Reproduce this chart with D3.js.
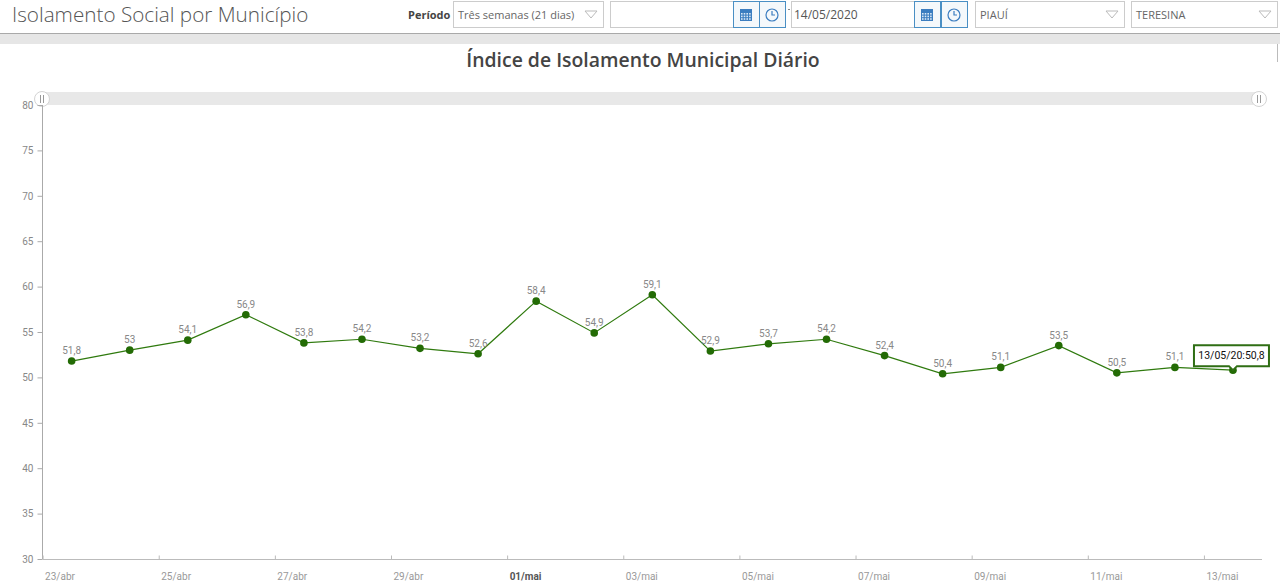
<!DOCTYPE html>
<html>
<head>
<meta charset="utf-8">
<script src="https://cdnjs.cloudflare.com/ajax/libs/d3/7.8.5/d3.min.js"></script>
<style>
  body { margin:0; background:#fff; overflow:hidden; }
  svg { display:block; }
</style>
</head>
<body>
<svg id="chart" width="1280" height="584"></svg>
<script>
// daily values, 23/04/2020 .. 13/05/2020
var dias = ["2020-04-23","2020-04-24","2020-04-25","2020-04-26","2020-04-27","2020-04-28","2020-04-29",
            "2020-04-30","2020-05-01","2020-05-02","2020-05-03","2020-05-04","2020-05-05","2020-05-06",
            "2020-05-07","2020-05-08","2020-05-09","2020-05-10","2020-05-11","2020-05-12","2020-05-13"];
var indice = [51.8, 53, 54.1, 56.9, 53.8, 54.2, 53.2, 52.6, 58.4, 54.9, 59.1,
              52.9, 53.7, 54.2, 52.4, 50.4, 51.1, 53.5, 50.5, 51.1, 50.8];
var xTicks = ["2020-04-23","2020-04-25","2020-04-27","2020-04-29","2020-05-01","2020-05-03",
              "2020-05-05","2020-05-07","2020-05-09","2020-05-11","2020-05-13"];
var xTickLabels = ["23/abr","25/abr","27/abr","29/abr","01/mai","03/mai","05/mai","07/mai","09/mai","11/mai","13/mai"];
var yTicks = [30, 35, 40, 45, 50, 55, 60, 65, 70, 75, 80];

var parse = d3.timeParse("%Y-%m-%d");
var fmtNum = function(v){ return String(v).replace(".", ","); };

var svg = d3.select("#chart");
var green = "#2f7a0e", dot = "#236b05";

// ---- header bar
svg.append("rect").attr("x",0).attr("y",0).attr("width",1280).attr("height",33).style("fill","#fff");
svg.append("rect").attr("x",0).attr("y",33).attr("width",1280).attr("height",11).style("fill","#e6e6e6");
svg.append("line").attr("x1",0).attr("x2",1280).attr("y1",33.5).attr("y2",33.5).style("stroke","#a9a9a9");
svg.append("line").attr("x1",1277.5).attr("x2",1277.5).attr("y1",44).attr("y2",62).style("stroke","#bbb");

svg.append("text").attr("x",12).attr("y",22)
  .style("font-family","'Open Sans'").style("font-weight",300).style("font-size","20.7px").style("fill","#555")
  .text("Isolamento Social por Município");

svg.append("text").attr("x",408).attr("y",19)
  .style("font-family","'Open Sans'").style("font-weight",700).style("font-size","11px").style("fill","#444")
  .text("Período");

function caixa(x, w, txt, seta){
  svg.append("rect").attr("x",x+0.5).attr("y",1.5).attr("width",w).attr("height",26)
    .style("fill","#fff").style("stroke","#ccc");
  if(txt) svg.append("text").attr("x",x+5).attr("y",19)
    .style("font-family","'Open Sans'").style("font-size","11px").style("fill","#666").text(txt);
  if(seta){
    var cx = x + w - 12;
    svg.append("path").attr("d","M"+(cx-6)+",11 L"+(cx+6)+",11 L"+cx+",18 Z")
      .style("fill","none").style("stroke","#bbb");
  }
}
function botao(x, tipo){
  svg.append("rect").attr("x",x+0.5).attr("y",1.5).attr("width",26).attr("height",26)
    .style("fill","#f4f8fb").style("stroke","#4a8fc4");
  var cx = x + 13, cy = 15;
  if(tipo == "cal"){
    svg.append("rect").attr("x",cx-6).attr("y",cy-6).attr("width",12).attr("height",12).style("fill","#3b7dc0");
    for(var r=0;r<3;r++) for(var c=0;c<4;c++)
      svg.append("rect").attr("x",cx-5+c*2.7).attr("y",cy-2+r*2.6).attr("width",1.6).attr("height",1.6).style("fill","#dbe9f6");
  } else {
    svg.append("circle").attr("cx",cx).attr("cy",cy).attr("r",6).style("fill","none").style("stroke","#3b7dc0").style("stroke-width",1.2);
    svg.append("path").attr("d","M"+cx+","+(cy-4)+" L"+cx+","+cy+" L"+(cx+3)+","+cy)
      .style("fill","none").style("stroke","#3b7dc0").style("stroke-width",1.2);
  }
}
caixa(453, 150, "Três semanas (21 dias)", true);
caixa(610, 123, "", false);
botao(733, "cal"); botao(759, "clk");
svg.append("line").attr("x1",788).attr("x2",790).attr("y1",9.5).attr("y2",9.5).style("stroke","#888");
caixa(791, 123, "", false);
svg.append("text").attr("x",794).attr("y",19).style("font-family","'Open Sans'").style("font-size","12px").style("fill","#555").text("14/05/2020");
botao(914, "cal"); botao(941, "clk");
caixa(975, 149, "PIAUÍ", true);
caixa(1131, 146, "TERESINA", true);

// ---- chart title
svg.append("text").attr("x",643).attr("y",67).attr("text-anchor","middle")
  .style("font-family","'Open Sans'").style("font-weight",600).style("font-size","19.4px").style("fill","#444")
  .text("Índice de Isolamento Municipal Diário");

// ---- scales
var x = d3.scaleTime().domain([parse("2020-04-23"), parse("2020-05-14")]).range([42.6, 1262]);
var y = d3.scaleLinear().domain([30, 80]).range([559, 105]);

// scrollbar
svg.append("rect").attr("x",42).attr("y",92).attr("width",1218).attr("height",13).style("fill","#e8e8e8");
[42, 1259].forEach(function(hx){
  svg.append("circle").attr("cx",hx).attr("cy",99).attr("r",7.5).style("fill","#fff").style("stroke","#d4d4d4");
  svg.append("line").attr("x1",hx-1.5).attr("x2",hx-1.5).attr("y1",95).attr("y2",103).style("stroke","#999");
  svg.append("line").attr("x1",hx+1.5).attr("x2",hx+1.5).attr("y1",95).attr("y2",103).style("stroke","#999");
});

// axes
var yAxis = d3.axisLeft(y).tickValues(yTicks).tickSize(5).tickPadding(4);
var gy = svg.append("g").attr("transform","translate(42.5,0)").call(yAxis);
gy.select(".domain").attr("d","M0,105V559").style("stroke","#aaa");
gy.selectAll(".tick line").style("stroke","#aaa");
gy.selectAll(".tick text").style("font-family","Roboto").style("font-size","10px").style("fill","#888");

var xAxis = d3.axisBottom(x).tickValues(xTicks.map(parse)).tickSize(4)
  .tickFormat(function(d, i){ return xTickLabels[i]; });
var gx = svg.append("g").attr("transform","translate(0,559.5)").call(xAxis);
gx.select(".domain").attr("d","M42.6,0H1262").style("stroke","#bbb");
gx.selectAll(".tick line").attr("y1",-4).attr("y2",0).style("stroke","#bbb");
gx.selectAll(".tick text").attr("text-anchor","start").attr("x",2).attr("dy","1.3em")
  .style("font-family","Roboto").style("font-size","10px")
  .style("fill", function(d, i){ return xTickLabels[i] == "01/mai" ? "#555" : "#999"; })
  .style("font-weight", function(d, i){ return xTickLabels[i] == "01/mai" ? 700 : 400; });

// line + points
var dados = dias.map(function(d, i){ return { data: d3.timeHour.offset(parse(d), 12), v: indice[i] }; });
var linha = d3.line().x(function(d){ return x(d.data); }).y(function(d){ return y(d.v); });

svg.append("path").datum(dados).attr("d", linha)
  .style("fill","none").style("stroke", green).style("stroke-width",1.2);

svg.selectAll("circle.pt").data(dados).enter().append("circle").attr("class","pt")
  .attr("cx", function(d){ return x(d.data); })
  .attr("cy", function(d){ return y(d.v); })
  .attr("r", 3.8).style("fill", dot);

svg.selectAll("text.lbl").data(dados).enter().append("text").attr("class","lbl")
  .attr("x", function(d){ return x(d.data); })
  .attr("y", function(d){ return y(d.v) - 7; })
  .attr("text-anchor","middle")
  .style("font-family","Roboto").style("font-size","10px").style("fill","#888")
  .text(function(d){ return fmtNum(d.v); });

// tooltip on last point
var ult = dados[dados.length - 1];
var tx = x(ult.data), ty = y(ult.v);
var tip = svg.append("g");
tip.append("path")
  .attr("d", "M" + (tx-39) + "," + (ty-25) + " H" + (tx+36) + " V" + (ty-4) + " H" + (tx+4) + " L" + tx + "," + ty +
             " L" + (tx-4) + "," + (ty-4) + " H" + (tx-39) + " Z")
  .style("fill","#fff").style("stroke", "#2f6e14").style("stroke-width",2);
tip.append("text").attr("x", tx - 1.5).attr("y", ty - 11).attr("text-anchor","middle")
  .style("font-family","Roboto").style("font-size","10.5px").style("fill","#111")
  .text(d3.timeFormat("%d/%m/%y")(ult.data) + ":" + fmtNum(ult.v));
</script>
</body>
</html>
